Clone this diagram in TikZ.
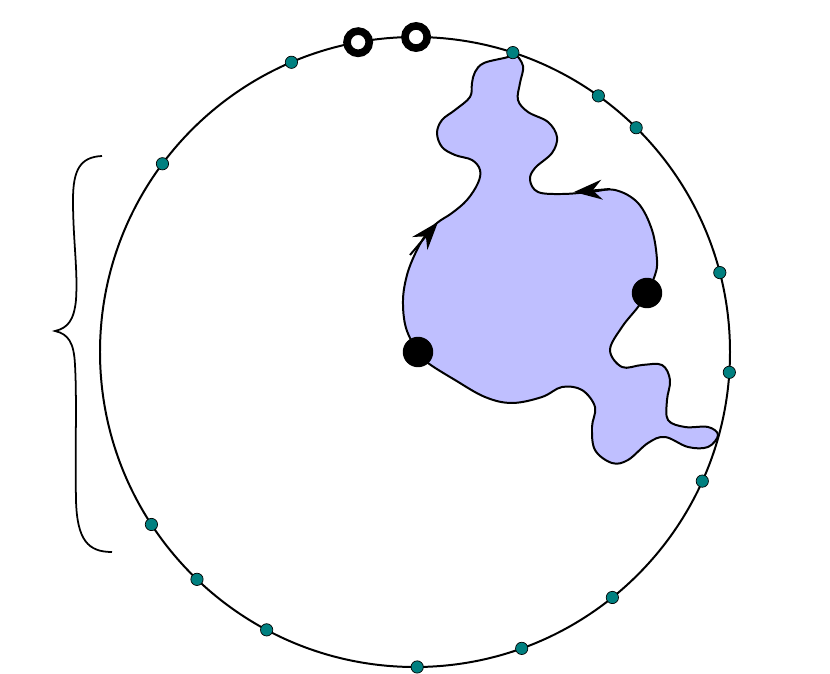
\documentclass[tikz,border=0pt]{standalone}
\usetikzlibrary{shapes,backgrounds,arrows.meta,calc}
\begin{document}
\begin{tikzpicture}[x=0.03cm, y=-0.03cm,
    rim/.style={line width=1.7pt},
    flow/.style={rim, -{Stealth[length=24pt, width=17pt, inset=8pt]}},
    site/.style={draw, circle, fill=teal, line width=0.6pt, inner sep=0pt, minimum size=10.5pt},
    hole/.style={draw, circle, fill=white, line width=6.5pt, inner sep=0pt, minimum size=19pt},
    spot/.style={circle, fill=black, inner sep=0pt, minimum size=26pt}]

\useasboundingbox (0,0) rectangle (830,674);
\coordinate (O) at (415,352);

% Shaded region
\draw [rim, fill=blue!25] plot [smooth cycle, tension=0.6] coordinates {
    (514,53) (523,66) (520,83) (518,100) (528,112) (548,122) (557,137)
    (552,153) (535,168) (530,180) (538,192) (562,194) (590,192) (615,190)
    (638,203) (652,230) (657,260) (655,275) (647,293) (638,307) (622,327)
    (610,350) (622,367) (642,365) (662,365) (670,380) (667,400) (668,420)
    (685,427) (708,427) (718,435) (708,447) (688,447) (665,437) (648,443)
    (628,460) (612,463) (595,450) (592,427) (595,407) (582,390) (562,387)
    (542,397) (512,403) (485,397) (455,380) (428,363) (418,352) (406,328)
    (403,300) (407,275) (415,254) (425,236) (437,223) (452,213) (467,200)
    (478,183) (480,170) (472,160) (455,155) (442,147) (437,133) (442,120)
    (455,110) (470,97) (472,83) (475,72) (484,63) (508,57)};

% Orientation of the boundary
\draw [flow] (410,255) -- (438,222);
\draw [flow] (610,189) -- (574,192);

% Big circle
\draw [rim] (O) circle (315);

% Marked points on the region
\node [spot] (P) at (418,352) {};
\node [spot] (Q) at (647,293) {};

% Points on the circle
\foreach \a [count=\i] in {-113.1,-143.3,146.8,133.8,118.1,89.6,70.2,
    51.2,24.2,3.7,-14.6,-45.4,-54.4,-71.9}
  \node [site] (s\i) at ($(O)+(\a:315)$) {};

% Punctures
\node [hole] (h1) at ($(O)+(-100.4:315)$) {};
\node [hole] (h2) at ($(O)+(-89.8:315)$) {};

% Brace
\draw [line width=1.5pt] (102,156) .. controls (80,157) and (73,170) .. (73,200)
    .. controls (73,240) and (78,270) .. (76,300)
    .. controls (74,320) and (68,328) .. (55,331)
    .. controls (68,334) and (74,342) .. (75,365)
    .. controls (77,400) and (75,450) .. (76,500)
    .. controls (77,540) and (88,552) .. (112,552);

\end{tikzpicture}
\end{document}
